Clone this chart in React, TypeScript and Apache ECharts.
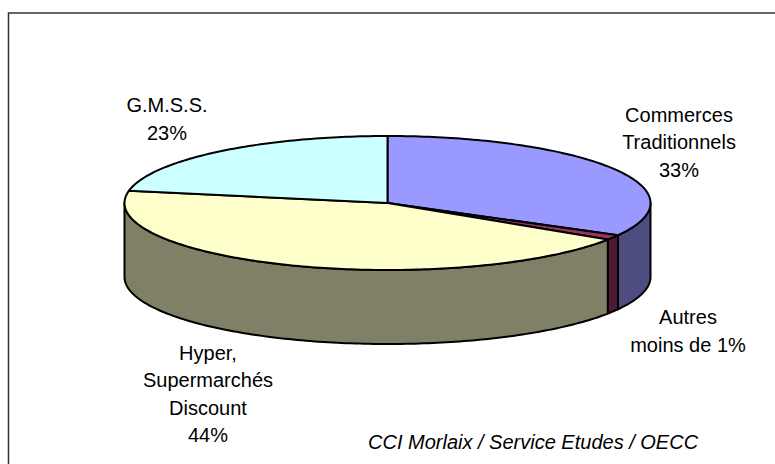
import React, { useEffect, useRef } from "react";
import * as echarts from "echarts";

const categories = ["Commerces Traditionnels", "Autres", "Hyper, Supermarchés Discount", "G.M.S.S."];
const shares = [33.0, 1.2, 43.7, 22.1];
const labelLines = [
  ["Commerces", "Traditionnels", "33%"],
  ["Autres", "moins de 1%"],
  ["Hyper,", "Supermarchés", "Discount", "44%"],
  ["G.M.S.S.", "23%"],
];
const sourceText = "CCI Morlaix / Service Etudes / OECC";

const topColors = ["#9999FF", "#993366", "#FFFFCC", "#CCFFFF"];
const sideColors = ["#4D4D80", "#4D1A33", "#808066", "#668080"];

// layout
const CX = 387.5, CY = 203, RX = 263, RY = 67, DEPTH = 74;
const labelPos = [
  { x: 679, y: 142 },
  { x: 688, y: 331 },
  { x: 208, y: 394 },
  { x: 167, y: 119 },
];

function pt(theta: number, dy = 0): number[] {
  return [CX + RX * Math.sin(theta), CY - RY * Math.cos(theta) + dy];
}

function arc(a: number, b: number, dy = 0): number[][] {
  const pts: number[][] = [];
  const n = Math.max(2, Math.ceil(((b - a) * 180) / Math.PI / 1));
  for (let i = 0; i <= n; i++) pts.push(pt(a + ((b - a) * i) / n, dy));
  return pts;
}

export default function App() {
  const ref = useRef<HTMLDivElement>(null);
  useEffect(() => {
    if (!ref.current) return;
    const chart = echarts.init(ref.current, undefined, { renderer: "svg" });
    const total = shares.reduce((s, v) => s + v, 0);
    const starts: number[] = [];
    let acc = 0;
    shares.forEach((v) => {
      starts.push(acc);
      acc += v;
    });

    const renderItem = (params: any, api: any) => {
      const i = params.dataIndex;
      const v = api.value(0);
      const a = (starts[i] / total) * Math.PI * 2;
      const b = a + (v / total) * Math.PI * 2;
      const children: any[] = [];
      const sa = Math.max(a, Math.PI / 2);
      const sb = Math.min(b, (Math.PI * 3) / 2);
      if (sb > sa) {
        const topArc = arc(sa, sb, 0);
        const botArc = arc(sa, sb, DEPTH).reverse();
        children.push({
          type: "polygon",
          shape: { points: topArc.concat(botArc) },
          style: { fill: sideColors[i], stroke: "#000", lineWidth: 2, lineJoin: "round" },
        });
      }
      children.push({
        type: "polygon",
        shape: { points: [[CX, CY]].concat(arc(a, b, 0)) },
        style: { fill: topColors[i], stroke: "#000", lineWidth: 2, lineJoin: "round" },
      });
      return { type: "group", children };
    };

    const textStyleBase = {
      fontFamily: "'Liberation Sans', Arial, sans-serif",
      fontSize: 20,
      fill: "#000",
      lineHeight: 27.5,
      align: "center",
      verticalAlign: "middle",
    };

    chart.setOption({
      animation: false,
      backgroundColor: "#fff",
      series: [
        {
          type: "custom",
          coordinateSystem: "none",
          renderItem,
          data: shares.map((v, i) => ({ name: categories[i], value: [v, i] })),
          silent: true,
        },
      ],
      graphic: [
        {
          type: "polyline",
          shape: { points: [[8.5, 470], [8.5, 13], [780, 13]] },
          style: { fill: "none", stroke: "#333", lineWidth: 1.5 },
          z: 10,
        },
        ...labelLines.map((lines, i) => ({
          type: "text",
          x: labelPos[i].x,
          y: labelPos[i].y,
          style: { ...textStyleBase, text: lines.join("\n") },
          z: 20,
        })),
        {
          type: "text",
          x: 368,
          y: 442,
          style: {
            fontFamily: "'Liberation Sans', Arial, sans-serif",
            fontSize: 20,
            fontStyle: "italic",
            fill: "#000",
            text: sourceText,
            align: "left",
            verticalAlign: "middle",
          },
          z: 20,
        },
      ],
    });
    return () => chart.dispose();
  }, []);
  return (
    <div
      ref={ref}
      style={{ position: "absolute", left: 0, top: 0, width: 775, height: 464 }}
    />
  );
}
